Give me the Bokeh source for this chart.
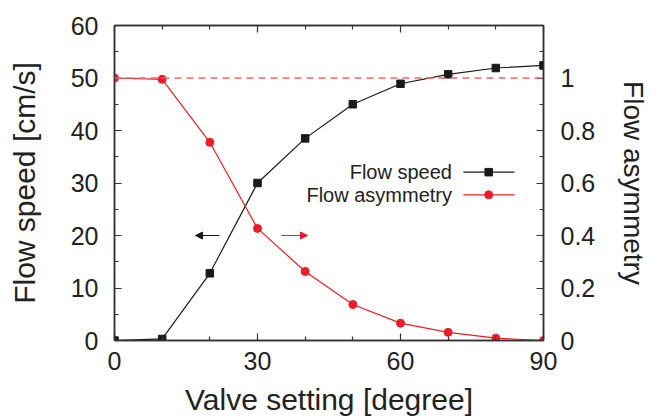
from bokeh.plotting import figure
from bokeh.models import (Range1d, LinearAxis, FixedTicker, Span, Arrow, NormalHead,
                          CustomJSTickFormatter)
from bokeh.core.properties import value
from bokeh.embed import file_html
from bokeh.resources import INLINE

# ---- data ----
valve = [0, 10, 20, 30, 40, 50, 60, 70, 80, 90]
flow_speed = [0.0, 0.3, 12.8, 30.0, 38.5, 45.0, 48.9, 50.7, 51.9, 52.4]
flow_asym = [1.0, 0.995, 0.755, 0.427, 0.263, 0.137, 0.066, 0.031, 0.009, 0.0]
x_major = [0, 30, 60, 90]
x_minor = [10, 20, 40, 50, 70, 80]
yl_major = [0, 10, 20, 30, 40, 50, 60]
yl_minor = [5, 15, 25, 35, 45, 55]
yr_major = [0, 0.2, 0.4, 0.6, 0.8, 1.0]
yr_minor = [0.1, 0.3, 0.5, 0.7, 0.9, 1.1]
reference_level = 1.0
series_names = ["Flow speed", "Flow asymmetry"]
x_title = "Valve setting [degree]"
y_title = "Flow speed [cm/s]"
y2_title = "Flow asymmetry"

FONT = "Liberation Sans"
TXT = "#222222"
BLK = "#1a1a1a"
RED = "#ee1c25"

p = figure(width=652, height=418, output_backend="svg", toolbar_location=None,
           x_range=Range1d(0, 90), y_range=Range1d(0, 60),
           min_border_left=114, min_border_right=652-543, min_border_top=25,
           min_border_bottom=418-340)
p.extra_y_ranges = {"asym": Range1d(0, 1.2)}
p.xgrid.visible = False
p.ygrid.visible = False
p.outline_line_color = "#333333"
p.outline_line_width = 1.5
p.background_fill_color = "white"
p.border_fill_color = "white"

def style(ax, ticks, minor, size="25px"):
    ax.ticker = FixedTicker(ticks=ticks, minor_ticks=minor)
    ax.major_tick_in = 7
    ax.major_tick_out = 0
    ax.minor_tick_in = 4
    ax.minor_tick_out = 0
    ax.major_tick_line_color = "#333333"
    ax.minor_tick_line_color = "#333333"
    ax.major_tick_line_width = 1.2
    ax.minor_tick_line_width = 1.2
    ax.axis_line_color = "#333333"
    ax.axis_line_width = 1.5
    ax.major_label_text_font = FONT
    ax.major_label_text_font_size = size
    ax.major_label_text_color = TXT
    ax.axis_label_text_font = FONT
    ax.axis_label_text_font_size = "30px"
    ax.axis_label_text_font_style = "normal"
    ax.axis_label_text_color = TXT

xa = p.xaxis[0]
style(xa, x_major, x_minor)
xa.axis_label = x_title
xa.major_label_standoff = 11
xa.axis_label_standoff = 10

ya = p.yaxis[0]
style(ya, yl_major, yl_minor)
ya.axis_label = y_title
ya.major_label_standoff = 16
ya.axis_label_standoff = 27

ra = LinearAxis(y_range_name="asym")
style(ra, yr_major, yr_minor)
ra.formatter = CustomJSTickFormatter(code="return String(Math.round(tick*10)/10)")
ra.major_label_standoff = 17
ra.axis_label = y2_title
ra.axis_label_text_font_size = "28px"
ra.axis_label_standoff = 20
p.add_layout(ra, "right")

ta = LinearAxis()
style(ta, x_major, x_minor)
ta.formatter = CustomJSTickFormatter(code="return ''")
ta.major_label_standoff = 0
p.add_layout(ta, "above")

p.add_layout(Span(location=reference_level, dimension="width", y_range_name="asym",
                  line_color="#f06a6a", line_width=1.5, line_dash="7 5"))

p.line(valve, flow_speed, line_color=BLK, line_width=1.2)
p.scatter(valve, flow_speed, marker="square", size=7.5, fill_color=BLK, line_color=BLK)
p.line(valve, flow_asym, line_color=RED, line_width=1.2, y_range_name="asym")
p.scatter(valve, flow_asym, marker="circle", size=8, fill_color=RED, line_color=RED,
          y_range_name="asym")

p.add_layout(Arrow(end=NormalHead(size=7, fill_color=BLK, line_color=BLK, line_width=1),
                   x_start=22, y_start=20, x_end=17, y_end=20,
                   line_color=BLK, line_width=1.2))
p.add_layout(Arrow(end=NormalHead(size=7, fill_color=RED, line_color=RED, line_width=1),
                   x_start=35, y_start=20, x_end=40.5, y_end=20,
                   line_color=RED, line_width=1.2))

leg_text_x = 70.8
leg_x0, leg_x1, leg_xm = 73.2, 83.9, 78.5
leg_y = [32.06, 27.75]
p.text(x=[leg_text_x] * 2, y=leg_y, text=series_names, text_align="right",
       text_baseline="middle", text_font=value(FONT), text_font_size="20px",
       text_color=TXT)
p.segment(x0=[leg_x0], y0=[leg_y[0]], x1=[leg_x1], y1=[leg_y[0]], line_color=BLK, line_width=1.2)
p.scatter([leg_xm], [leg_y[0]], marker="square", size=7.5, fill_color=BLK, line_color=BLK)
p.segment(x0=[leg_x0], y0=[leg_y[1]], x1=[leg_x1], y1=[leg_y[1]], line_color=RED, line_width=1.2)
p.scatter([leg_xm], [leg_y[1]], marker="circle", size=8, fill_color=RED, line_color=RED)

open("out.html", "w").write(file_html(p, INLINE))
